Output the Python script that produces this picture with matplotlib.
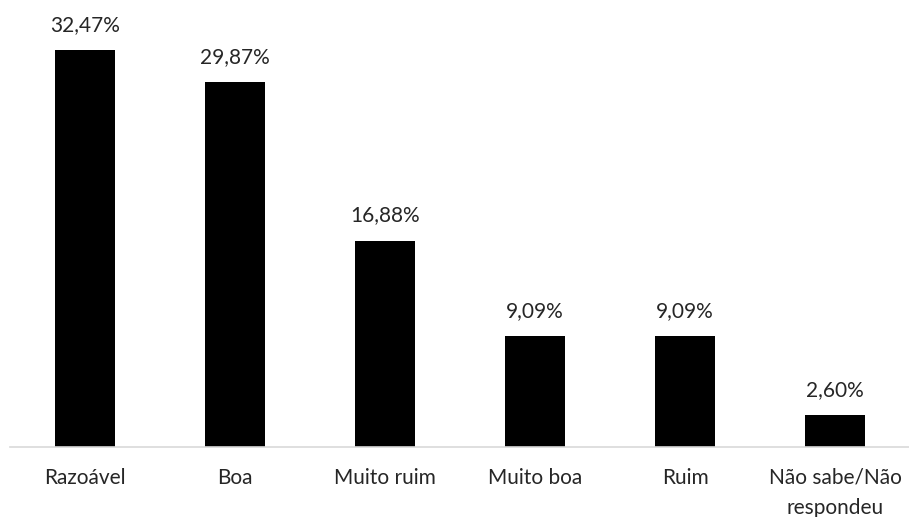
import matplotlib.pyplot as plt
import numpy as np

categorias = ["Razoável", "Boa", "Muito ruim", "Muito boa", "Ruim", "Não sabe/Não\nrespondeu"]
valores = [32.47, 29.87, 16.88, 9.09, 9.09, 2.60]

plt.rcParams['font.family'] = ['Lato', 'DejaVu Sans']

fig = plt.figure(figsize=(9.09, 5.17), dpi=100)
ax = fig.add_axes([10 / 909, 1 - 447 / 517, 900 / 909, 447 / 517])

x = np.arange(len(categorias))
ax.bar(x, valores, width=0.4, color="black")

for xi, v in zip(x, valores):
    rotulo = f"{v:.2f}%".replace(".", ",")
    ax.annotate(rotulo, (xi, v), xytext=(0, 11), textcoords="offset points",
                ha="center", va="bottom", fontsize=15, color="#262626")

ax.set_xlim(-0.5, len(categorias) - 0.5)
ax.set_ylim(0, 36.6)
ax.set_xticks(x)
ax.set_xticklabels(categorias, fontsize=15, color="#262626", linespacing=1.65)
ax.tick_params(axis="x", length=0, pad=15)
ax.set_yticks([])
for lado in ["top", "left", "right"]:
    ax.spines[lado].set_visible(False)
ax.spines["bottom"].set_color("#d9d9d9")
ax.spines["bottom"].set_linewidth(1.2)

fig.savefig("out.png", dpi=100)
